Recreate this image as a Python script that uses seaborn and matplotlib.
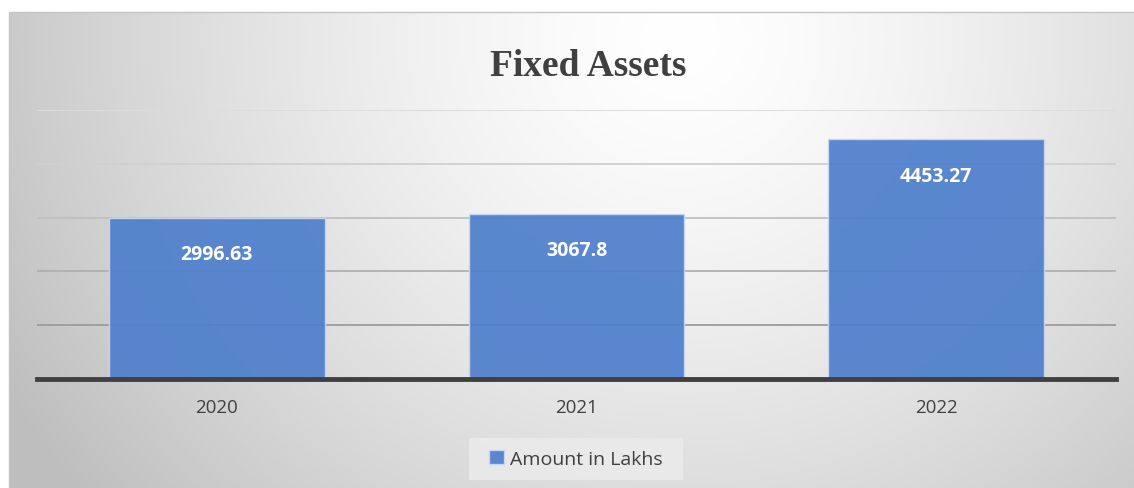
import numpy as np
import pandas as pd
import matplotlib
matplotlib.use('Agg')
import matplotlib.pyplot as plt
import seaborn as sns
from matplotlib.patches import Rectangle

# Data
years = ['2020', '2021', '2022']
amounts = [2996.63, 3067.8, 4453.27]
series_name = 'Amount in Lakhs'

df = pd.DataFrame({'Year': years, 'Amount': amounts})

sns.set_theme(style='white')
plt.rcParams['font.family'] = ['Open Sans', 'DejaVu Sans']

W, H = 1134, 489
fig = plt.figure(figsize=(W / 100, H / 100), dpi=100)

# radial gradient background (light centre, grey edges)
bg = fig.add_axes([0, 0, 1, 1], zorder=-10)
yy, xx = np.mgrid[0:H, 0:W]
d = np.sqrt(((xx - 680) / 700.0) ** 2 + ((yy - 40) / 650.0) ** 2)
shade = 1.0 - 0.22 * np.clip(d, 0, 1.1) ** 1.4
img = np.dstack([shade, shade, shade])
img[:13, :, :] = 1.0
img[:, :9, :] = 1.0
bg.imshow(img, extent=[0, W, H, 0], aspect='auto', interpolation='bilinear')
bg.add_patch(Rectangle((9, 13), W, H, fill=False, edgecolor='#c4c4c4', lw=1))
# legend box
bg.add_patch(Rectangle((469, 439), 214, 42, facecolor='#ececec',
                       edgecolor='none', alpha=0.8))
bg.set_xlim(0, W)
bg.set_ylim(H, 0)
bg.axis('off')

ax = fig.add_axes([37 / W, 1 - 380 / H, (1116 - 37) / W, 269 / H])
ax.patch.set_alpha(0)

sns.barplot(data=df, x='Year', y='Amount', color='#4E7FCC', alpha=0.93,
            saturation=1, width=0.6, edgecolor='#cad7ef', linewidth=1.0,
            ax=ax, label=series_name, zorder=3)

ax.set_ylim(0, 5000)
ax.set_yticks([1000, 2000, 3000, 4000, 5000])
ax.yaxis.grid(False)
grid_cols = ['#9c9c9c', '#b0b0b0', '#c0c0c0', '#d0d0d0', '#dcdcdc']
for v, c in zip([1000, 2000, 3000, 4000, 5000], grid_cols):
    ax.axhline(v, color=c, lw=1.3, zorder=1)
ax.set_yticklabels([])
ax.tick_params(axis='y', length=0)
ax.tick_params(axis='x', length=0, labelsize=13.5, colors='#404040', pad=14)
ax.set_xlabel('')
ax.set_ylabel('')
for s in ['top', 'left', 'right']:
    ax.spines[s].set_visible(False)
ax.spines['bottom'].set_color('#404040')
ax.spines['bottom'].set_linewidth(3.5)
ax.spines['bottom'].set_zorder(5)

for p, v in zip(ax.patches, amounts):
    ax.annotate(f'{v:g}', (p.get_x() + p.get_width() / 2, p.get_height()),
                xytext=(0, -26), textcoords='offset points', ha='center',
                va='center', color='white', fontsize=14, fontweight='bold',
                zorder=6)

fig.text(588 / W, 1 - 66 / H, 'Fixed Assets', ha='center', va='center',
         fontsize=27, fontweight='bold', color='#404040',
         family=['Liberation Serif', 'DejaVu Serif'])

leg = ax.legend(loc='center', bbox_to_anchor=(576 / W, 1 - 460 / H),
                bbox_transform=fig.transFigure, frameon=False, fontsize=14,
                handlelength=0.75, handleheight=0.75, handletextpad=0.35,
                borderpad=0.2, labelcolor='#404040')

fig.savefig('out.png', dpi=100)
